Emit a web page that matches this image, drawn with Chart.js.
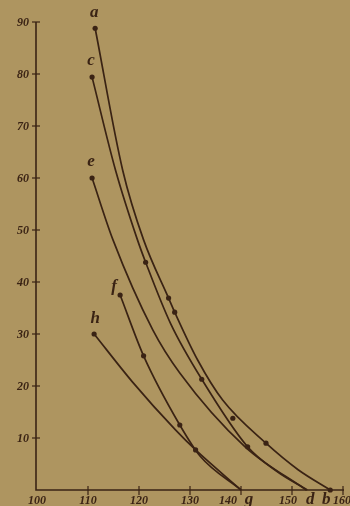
<!DOCTYPE html>
<html>
<head>
<meta charset="utf-8">
<script src="https://cdn.jsdelivr.net/npm/chart.js@4/dist/chart.umd.min.js"></script>
<style>
  html, body { margin: 0; padding: 0; background: #ae9560; }
  #wrap { width: 350px; height: 506px; }
</style>
</head>
<body>
<div id="wrap"><canvas id="chart" width="350" height="506"></canvas></div>
<script>
// curves: abscissa 100..160, ordinate 0..90
const curveNames = ['a', 'c', 'e', 'f', 'h'];

const aX = [111.4, 116.8, 120.9, 125.8, 127.0, 131.5, 136.4, 144.9, 151.2, 157.5];
const aY = [88.8, 61.5, 48.1, 36.9, 34.2, 25.0, 17.3, 9.0, 3.9, 0];
const aDots = [1, 0, 0, 1, 1, 0, 0, 1, 0, 1];

const cX = [110.8, 115.4, 119.7, 121.3, 126.2, 132.3, 141.3, 147.0, 153.0];
const cY = [79.4, 61.5, 48.1, 43.8, 32.0, 21.3, 8.3, 3.6, 0];
const cDots = [1, 0, 0, 1, 0, 1, 1, 0, 0];

const eX = [110.8, 114.9, 122.7, 128.0, 140.8, 152.8];
const eY = [60, 48.1, 30.8, 22.5, 8.3, 0];
const eDots = [1, 0, 0, 0, 0, 0];

const fX = [116.3, 120.9, 128.0, 132.0, 140.0];
const fY = [37.5, 25.8, 12.5, 6.5, 0];
const fDots = [1, 1, 1, 0, 0];

const hX = [111.2, 118.7, 127.2, 131.1, 140.0];
const hY = [30, 20.8, 11.5, 7.7, 0];
const hDots = [1, 0, 0, 1, 0];

// lone observation between a and c
const looseX = [138.4];
const looseY = [13.8];

const xTicks = [100, 110, 120, 130, 140, 150, 160];
const yTicks = [10, 20, 30, 40, 50, 60, 70, 80, 90];

// letters written under the axis where the curves land
const endNames = ['g', 'd', 'b'];
const endAt = [140, 153, 157.5];

const ink = '#3a2314';

function curve(xs, ys, dots) {
    return {
        data: xs.map((x, i) => ({ x: x, y: ys[i] })),
        borderColor: ink,
        backgroundColor: ink,
        borderWidth: 1.7,
        pointRadius: dots.map(d => d ? 2.6 : 0),
        pointBorderWidth: 0,
        cubicInterpolationMode: 'monotone',
        clip: false
    };
}

const platePlugin = {
    id: 'plate',
    afterDraw(chart) {
        const ctx = chart.ctx;
        const xs = chart.scales.x;
        const ys = chart.scales.y;
        const x0 = xs.getPixelForValue(100) - 1;
        const y0 = ys.getPixelForValue(0);

        ctx.save();
        ctx.strokeStyle = ink;
        ctx.fillStyle = ink;
        ctx.lineWidth = 1.6;

        // axes
        ctx.beginPath();
        ctx.moveTo(x0, ys.getPixelForValue(90));
        ctx.lineTo(x0, y0);
        ctx.lineTo(xs.getPixelForValue(160) + 1, y0);
        ctx.stroke();

        ctx.font = 'italic bold 12px "Liberation Serif"';
        ctx.lineWidth = 1.2;

        // y ticks and labels
        ctx.textAlign = 'right';
        ctx.textBaseline = 'middle';
        yTicks.forEach(v => {
            const py = ys.getPixelForValue(v);
            ctx.beginPath();
            ctx.moveTo(x0 - 4, py);
            ctx.lineTo(x0 + 4, py);
            ctx.stroke();
            ctx.fillText(String(v), x0 - 7, py + 1);
        });

        // x ticks and labels (140 and 150 sit left to make room for the letters)
        ctx.textAlign = 'center';
        ctx.textBaseline = 'alphabetic';
        xTicks.forEach(v => {
            const px = xs.getPixelForValue(v);
            if (v > 100) {
                ctx.beginPath();
                ctx.moveTo(px, y0 - 4);
                ctx.lineTo(px, y0 + 5);
                ctx.stroke();
            }
            let shift = 0;
            if (v === 140) shift = -13;
            if (v === 150) shift = -4;
            if (v === 160) shift = -1;
            ctx.fillText(String(v), px + shift, y0 + 14);
        });

        // end letters
        ctx.font = 'italic bold 17px "Liberation Serif"';
        const endShift = [8, 3, -4];
        endNames.forEach((n, i) => {
            ctx.fillText(n, xs.getPixelForValue(endAt[i]) + endShift[i], y0 + 14);
        });

        // curve letters next to the first point of each curve
        const labelShift = [[-1, -11], [-1, -12], [-1, -12], [-6, -4], [1, -11]];
        curveNames.forEach((n, i) => {
            const p = chart.getDatasetMeta(i).data[0];
            ctx.fillText(n, p.x + labelShift[i][0], p.y + labelShift[i][1]);
        });

        ctx.restore();
    }
};

const loose = curve(looseX, looseY, [1]);
loose.showLine = false;

new Chart(document.getElementById('chart'), {
    type: 'line',
    data: {
        datasets: [
            curve(aX, aY, aDots),
            curve(cX, cY, cDots),
            curve(eX, eY, eDots),
            curve(fX, fY, fDots),
            curve(hX, hY, hDots),
            loose
        ]
    },
    options: {
        responsive: false,
        animation: false,
        layout: { padding: { left: 37, right: 7, top: 22, bottom: 16 } },
        plugins: { legend: { display: false }, tooltip: { enabled: false } },
        scales: {
            x: { type: 'linear', min: 100, max: 160, display: false },
            y: { type: 'linear', min: 0, max: 90, display: false }
        }
    },
    plugins: [platePlugin]
});
</script>
</body>
</html>
